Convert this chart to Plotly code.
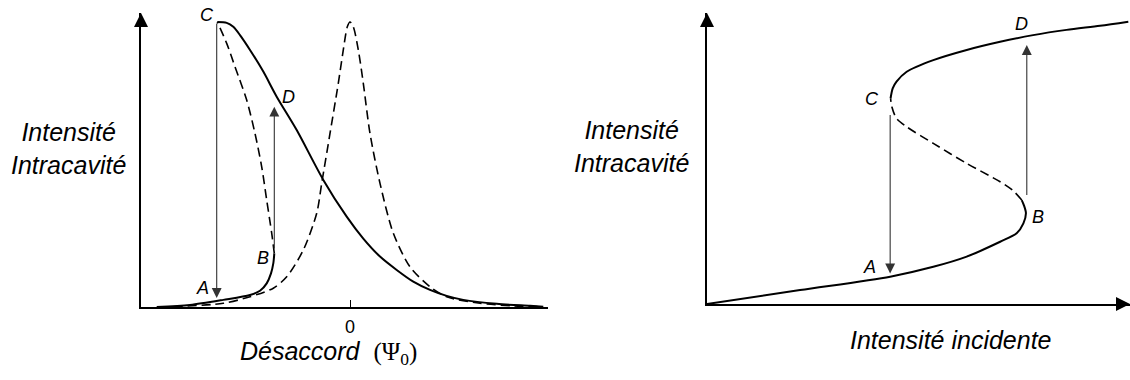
import plotly.graph_objects as go

# ---------------- data (left panel: intracavity intensity vs detuning) ----------------
# linear (Lorentzian) response, dashed
lor_x = [-1.767, -1.267, -1.0, -0.767, -0.633, -0.467, -0.333, -0.283, -0.20, -0.117, -0.067, -0.027, 0.0,
         0.033, 0.083, 0.133, 0.20, 0.30, 0.433, 0.60, 0.80, 0.967, 1.30, 1.633, 1.93]
lor_y = [0.001, 0.013, 0.036, 0.066, 0.106, 0.20, 0.329, 0.434, 0.609, 0.785, 0.902, 0.983, 1.0,
         0.983, 0.902, 0.785, 0.609, 0.434, 0.259, 0.141, 0.071, 0.036, 0.013, 0.004, 0.001]

# nonlinear response: lower stable branch (solid)
low_x = [-1.933, -1.60, -1.267, -1.0, -0.90, -0.833, -0.79, -0.767, -0.757]
low_y = [0.0, 0.007, 0.025, 0.042, 0.057, 0.083, 0.118, 0.153, 0.188]
# unstable branch B -> C (dashed)
mid_x = [-0.757, -0.783, -0.833, -0.883, -0.95, -1.033, -1.15, -1.233, -1.327]
mid_y = [0.188, 0.259, 0.375, 0.492, 0.609, 0.726, 0.843, 0.925, 1.0]
# upper stable branch C -> right (solid)
up_x = [-1.327, -1.233, -1.167, -1.10, -1.0, -0.867, -0.733, -0.533, -0.267, -0.033, 0.133, 0.30,
        0.467, 0.633, 0.80, 0.967, 1.133, 1.467, 1.80, 1.933]
up_y = [1.0, 0.997, 0.983, 0.954, 0.902, 0.826, 0.738, 0.621, 0.446, 0.317, 0.240, 0.177,
        0.130, 0.089, 0.060, 0.039, 0.025, 0.011, 0.004, 0.001]

left_tick_vals = [0]
left_tick_text = ["0"]

# jumps (tail -> head) and point labels
left_jumps = [(-1.333, 1.0, -1.333, 0.032), (-0.757, 0.20, -0.757, 0.703)]
left_labels = ["A", "B", "C", "D"]
left_label_x = [-1.473, -0.867, -1.433, -0.617]
left_label_y = [0.066, 0.171, 1.025, 0.738]

# ---------------- data (right panel: intracavity vs incident intensity) ----------------
r_low_x = [0.0, 0.220, 0.433, 0.535, 0.614, 0.693, 0.732, 0.748, 0.754, 0.749, 0.744]
r_low_y = [0.0, 0.048, 0.094, 0.128, 0.163, 0.214, 0.243, 0.277, 0.312, 0.340, 0.357]
r_mid_x = [0.744, 0.724, 0.693, 0.614, 0.535, 0.472, 0.448, 0.437, 0.434]
r_mid_y = [0.357, 0.389, 0.420, 0.483, 0.552, 0.609, 0.638, 0.678, 0.707]
r_up_x = [0.434, 0.439, 0.448, 0.472, 0.535, 0.614, 0.693, 0.771, 0.850, 0.929, 0.996]
r_up_y = [0.707, 0.741, 0.764, 0.798, 0.838, 0.873, 0.901, 0.924, 0.942, 0.956, 0.970]

right_jumps = [(0.433, 0.655, 0.433, 0.105), (0.756, 0.369, 0.756, 0.890)]
right_labels = ["A", "B", "C", "D"]
right_label_x = [0.385, 0.783, 0.389, 0.744]
right_label_y = [0.128, 0.298, 0.703, 0.962]

y_title = "<i>Intensité<br>Intracavité</i>"
x_title_left = "<i>Désaccord</i>  <span style=\"font-family:'Liberation Serif'\">(Ψ<sub>0</sub>)</span>"
x_title_right = "<i>Intensité incidente</i>"

# ---------------- figure ----------------
W, H = 1130, 380
SANS = "Liberation Sans, Arial, Helvetica, sans-serif"
solid = dict(color="black", width=2)
dashed = dict(color="black", width=1.6, dash="9px,5px")

fig = go.Figure()

def add_line(x, y, line, xa, ya):
    fig.add_trace(go.Scatter(x=x, y=y, mode="lines", line=dict(shape="spline", smoothing=0.8, **line),
                             xaxis=xa, yaxis=ya, hoverinfo="skip", showlegend=False))

add_line(lor_x, lor_y, dashed, "x", "y")
add_line(low_x, low_y, solid, "x", "y")
add_line(mid_x, mid_y, dashed, "x", "y")
add_line(up_x, up_y, solid, "x", "y")

add_line(r_low_x, r_low_y, solid, "x2", "y2")
add_line(r_mid_x, r_mid_y, dashed, "x2", "y2")
add_line(r_up_x, r_up_y, solid, "x2", "y2")

def px_to_paper_y(py):
    return (H - py) / H

L_YTOP = (307 - 13) / 285
R_YTOP = (304 - 13) / 291

axis_common = dict(showgrid=False, zeroline=False, showline=True, linecolor="black", linewidth=2,
                   fixedrange=True)

fig.update_layout(
    width=W, height=H, autosize=False,
    margin=dict(l=0, r=0, t=0, b=0),
    paper_bgcolor="white", plot_bgcolor="white",
    xaxis=dict(domain=[141 / W, 548 / W], range=[-2.09, 1.98], anchor="y",
               tickvals=left_tick_vals, ticktext=left_tick_text, ticks="inside", ticklen=7, tickwidth=1,
               tickcolor="black", tickfont=dict(family=SANS, size=18, color="black"),
               ticklabelstandoff=2, **axis_common),
    yaxis=dict(domain=[px_to_paper_y(307), px_to_paper_y(13)], range=[0, L_YTOP], anchor="x",
               showticklabels=False, ticks="", **axis_common),
    xaxis2=dict(domain=[707 / W, 1.0], range=[0, 1.0], anchor="y2",
                showticklabels=False, ticks="", **axis_common),
    yaxis2=dict(domain=[px_to_paper_y(304), px_to_paper_y(13)], range=[0, R_YTOP], anchor="x2",
                showticklabels=False, ticks="", **axis_common),
    showlegend=False,
)

ann = []
# axis arrowheads
for xr, yr, x, y, ax, ay in [("x", "y", -2.09, L_YTOP, 0, 12),
                             ("x2", "y2", 0, R_YTOP, 0, 12),
                             ("x2", "y2", 1.0, 0, -12, 0)]:
    ann.append(dict(xref=xr, yref=yr, x=x, y=y, ax=ax, ay=ay, text="", showarrow=True,
                    arrowhead=2, arrowsize=1.4, arrowwidth=2, arrowcolor="black", standoff=0))

# jump arrows
for xr, yr, jumps in [("x", "y", left_jumps), ("x2", "y2", right_jumps)]:
    for tx, ty, hx, hy in jumps:
        ann.append(dict(xref=xr, yref=yr, axref=xr, ayref=yr, x=hx, y=hy, ax=tx, ay=ty, text="",
                        showarrow=True, arrowhead=2, arrowsize=1.8, arrowwidth=1.1,
                        arrowcolor="#333333", standoff=0, startstandoff=0))

# point labels
for xr, yr, labs, lx, ly in [("x", "y", left_labels, left_label_x, left_label_y),
                             ("x2", "y2", right_labels, right_label_x, right_label_y)]:
    for t, x, y in zip(labs, lx, ly):
        ann.append(dict(xref=xr, yref=yr, x=x, y=y, text="<i>" + t + "</i>", showarrow=False,
                        font=dict(family=SANS, size=18, color="black"), xanchor="center", yanchor="middle"))

# titles
ann.append(dict(xref="paper", yref="paper", x=68 / W, y=px_to_paper_y(148), text=y_title, showarrow=False,
                font=dict(family=SANS, size=25, color="black"), xanchor="center", yanchor="middle", align="center"))
ann.append(dict(xref="paper", yref="paper", x=631 / W, y=px_to_paper_y(146), text=y_title, showarrow=False,
                font=dict(family=SANS, size=25, color="black"), xanchor="center", yanchor="middle", align="center"))
ann.append(dict(xref="paper", yref="paper", x=328 / W, y=px_to_paper_y(353), text=x_title_left, showarrow=False,
                font=dict(family=SANS, size=25, color="black"), xanchor="center", yanchor="middle"))
ann.append(dict(xref="paper", yref="paper", x=951 / W, y=px_to_paper_y(340), text=x_title_right, showarrow=False,
                font=dict(family=SANS, size=25, color="black"), xanchor="center", yanchor="middle"))

fig.update_layout(annotations=ann)
fig.write_html("out.html", config={"displayModeBar": False},
               post_script="document.body.style.margin='0';document.body.style.padding='0';")
